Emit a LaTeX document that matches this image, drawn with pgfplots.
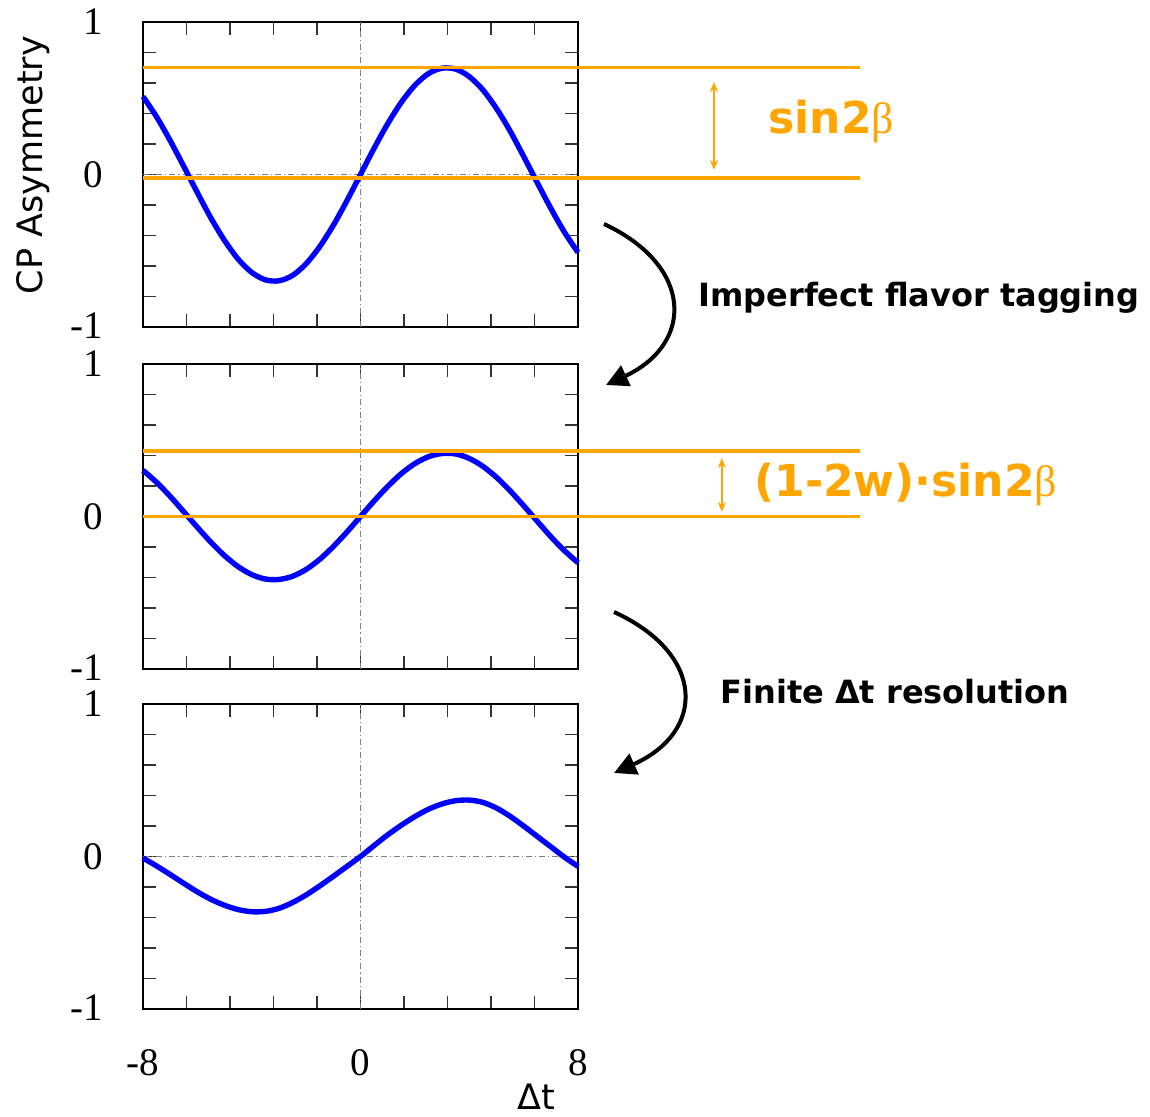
\documentclass[border=0pt]{standalone}
\usepackage{pgfplots}
\pgfplotsset{compat=1.18}
\usepackage{pgfplotstable}
\usepackage{fontspec}
\setmainfont{Liberation Serif}
\newfontfamily\dejavu{DejaVu Sans}
\usetikzlibrary{arrows.meta}
\definecolor{cporange}{RGB}{255,165,0}
\definecolor{cpblue}{RGB}{0,0,255}

\pgfplotstableread{
x y
-8 0.511
-7.5 0.378
-7 0.222
-6.5 0.053
-6 -0.119
-5.5 -0.286
-5 -0.433
-4.5 -0.555
-4 -0.642
-3.5 -0.691
-3 -0.697
-2.5 -0.662
-2 -0.585
-1.5 -0.473
-1 -0.333
-0.5 -0.172
0 0
0.5 0.172
1 0.333
1.5 0.473
2 0.585
2.5 0.662
3 0.697
3.5 0.691
4 0.642
4.5 0.555
5 0.433
5.5 0.286
6 0.119
6.5 -0.053
7 -0.222
7.5 -0.378
8 -0.511
}\panelA

\pgfplotstableread{
x y
-8 0.303
-7.5 0.224
-7 0.132
-6.5 0.031
-6 -0.071
-5.5 -0.169
-5 -0.257
-4.5 -0.329
-4 -0.381
-3.5 -0.410
-3 -0.413
-2.5 -0.392
-2 -0.347
-1.5 -0.281
-1 -0.197
-0.5 -0.102
0 0
0.5 0.102
1 0.197
1.5 0.281
2 0.347
2.5 0.392
3 0.413
3.5 0.410
4 0.381
4.5 0.329
5 0.257
5.5 0.169
6 0.071
6.5 -0.031
7 -0.132
7.5 -0.224
8 -0.303
}\panelB

\pgfplotstableread{
x y
-8 -0.01
-7.5 -0.062
-7 -0.118
-6.5 -0.176
-6 -0.232
-5.5 -0.281
-5 -0.32
-4.5 -0.348
-4 -0.362
-3.5 -0.36
-3 -0.34
-2.5 -0.302
-2 -0.252
-1.5 -0.193
-1 -0.13
-0.5 -0.065
0 0
0.5 0.072
1 0.142
1.5 0.205
2 0.262
2.5 0.31
3 0.345
3.5 0.366
4 0.37
4.5 0.355
5 0.318
5.5 0.264
6 0.2
6.5 0.132
7 0.064
7.5 -0.004
8 -0.065
}\panelC

\pgfplotsset{
  panel/.style={
    scale only axis, width=217.5pt, height=152.5pt,
    xmin=-8, xmax=8, ymin=-1, ymax=1,
    anchor=north west, clip=false,
    axis line style={line width=1pt},
    xtick={-8,-6.4,-4.8,-3.2,-1.6,0,1.6,3.2,4.8,6.4,8},
    ytick={-1,-0.8,-0.6,-0.4,-0.2,0,0.2,0.4,0.6,0.8,1},
    yticklabels={\raisebox{1pt}{-1},,,,,0,,,,,\raisebox{-2pt}{1}},
    xticklabels={},
    tick align=inside, major tick length=6.5pt,
    every tick/.style={black!80, line width=0.7pt},
    yticklabel style={anchor=east, inner sep=0pt, xshift=-20pt, font=\fontsize{19.5}{19.5}\selectfont},
    xticklabel style={anchor=north, inner sep=0pt, yshift=-20pt, font=\fontsize{19.5}{19.5}\selectfont},
  },
  zero/.style={gray, line width=0.5pt, dash pattern=on 3pt off 1.5pt on 0.6pt off 1.5pt, no marks},
  curve/.style={cpblue, line width=2.7pt, smooth, no marks},
  oline/.style={cporange, line width=1.7pt, no marks},
}

\begin{document}
\begin{tikzpicture}
\useasboundingbox (0,0) rectangle (575pt,-558.5pt);

% Panel 1
\begin{axis}[panel, at={(71.5pt,-11pt)}]
\addplot[zero] coordinates {(-8,0) (8,0)};
\addplot[zero] coordinates {(0,-1) (0,1)};
\addplot[curve] table {\panelA};
\addplot[oline] coordinates {(-8,0.70) (18.37,0.70)};
\addplot[oline] coordinates {(-8,-0.022) (18.37,-0.022)};
\draw[cporange, line width=1pt, {Stealth[length=5pt,width=4pt]}-{Stealth[length=5pt,width=4pt]}] (axis cs:13.0,0.03) -- (axis cs:13.0,0.607);
\node[anchor=base west, inner sep=0pt, text=cporange, font=\dejavu\bfseries\fontsize{22}{22}\selectfont] at (axis cs:14.99,0.272) {sin2{\rmfamily\mdseries β}};
\end{axis}

% Panel 2
\begin{axis}[panel, at={(71.5pt,-182pt)}]
\addplot[zero] coordinates {(0,-1) (0,1)};
\addplot[curve] table {\panelB};
\addplot[oline] coordinates {(-8,0.43) (18.37,0.43)};
\addplot[oline] coordinates {(-8,0) (18.37,0)};
\draw[cporange, line width=1pt, {Stealth[length=5pt,width=4pt]}-{Stealth[length=5pt,width=4pt]}] (axis cs:13.29,0.03) -- (axis cs:13.29,0.384);
\node[anchor=base west, inner sep=0pt, text=cporange, font=\dejavu\bfseries\fontsize{22}{22}\selectfont] at (axis cs:14.47,0.128) {(1-2w)·sin2{\rmfamily\mdseries β}};
\end{axis}

% Panel 3
\begin{axis}[panel, at={(71.5pt,-352pt)}, xticklabels={-8,,,,,0,,,,,8}]
\addplot[zero] coordinates {(-8,0) (8,0)};
\addplot[zero] coordinates {(0,-1) (0,1)};
\addplot[curve] table {\panelC};
\end{axis}

% Labels
\node[rotate=90, inner sep=0pt, font=\dejavu\fontsize{17.5}{17.5}\selectfont] at (16.5pt,-82.5pt) {CP Asymmetry};
\node[inner sep=0pt, font=\dejavu\fontsize{17.5}{17.5}\selectfont] at (268pt,-548.5pt) {Δt};

% Curved arrows
\draw[line width=2pt, -{Triangle[length=11pt,width=11pt]}] (302pt,-112pt) .. controls (347pt,-133pt) and (347pt,-172pt) .. (303pt,-192.5pt);
\draw[line width=2pt, -{Triangle[length=11pt,width=11pt]}] (307pt,-306pt) .. controls (353pt,-327pt) and (353pt,-366pt) .. (307pt,-386.5pt);

\node[anchor=west, inner sep=0pt, font=\dejavu\bfseries\fontsize{16}{16}\selectfont] at (349pt,-149pt) {Imperfect flavor tagging};
\node[anchor=west, inner sep=0pt, font=\dejavu\bfseries\fontsize{16}{16}\selectfont] at (360pt,-346pt) {Finite Δt resolution};
\end{tikzpicture}
\end{document}
